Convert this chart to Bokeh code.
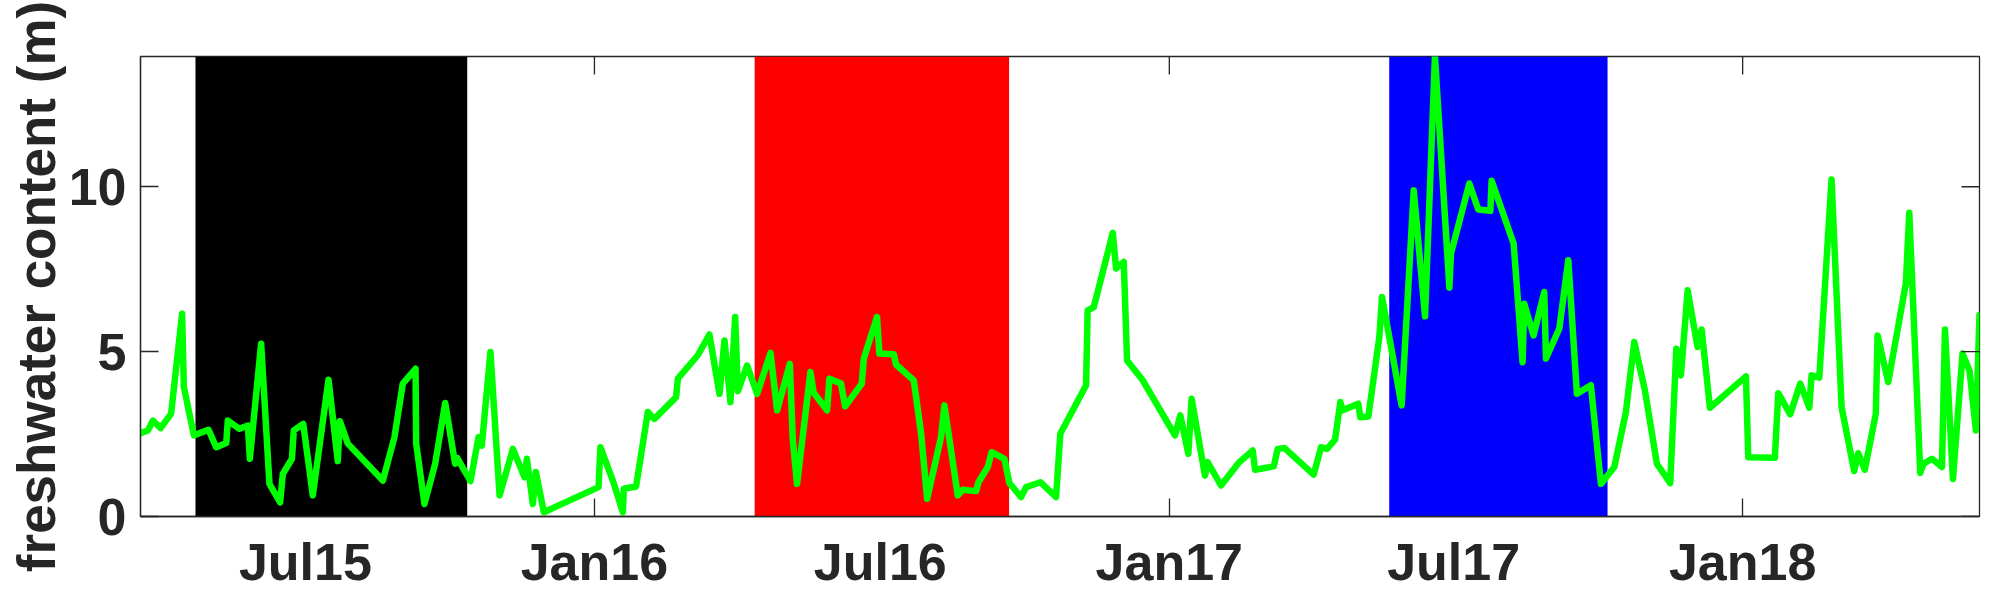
import math
import pandas as pd
from bokeh.plotting import figure
from bokeh.models import (ColumnDataSource, FixedTicker, DatetimeTickFormatter, Range1d)
from bokeh.embed import file_html
from bokeh.resources import INLINE

# ---------------- data ----------------
base_date = "2015-01-01"
days_since_base = [
    76.0, 80.7, 83.9, 88.8, 95.5, 102.5, 103.6, 110.0, 119.3, 124.2,
    130.6, 131.6, 139.0, 144.4, 145.6, 152.8, 158.1, 164.9, 166.6, 172.4,
    173.6, 179.6, 185.7, 195.7, 201.6, 202.9, 208.0, 230.3, 237.7, 243.0,
    251.1, 251.5, 256.8, 263.6, 270.0, 276.3, 277.6, 286.1, 291.2, 293.3,
    298.8, 304.6, 313.1, 320.5, 322.0, 325.8, 327.7, 332.8, 367.6, 368.8,
    376.7, 383.1, 383.7, 391.5, 399.0, 403.2, 417.0, 418.1, 430.8, 438.2,
    444.6, 447.8, 451.6, 454.6, 456.3, 462.2, 468.6, 477.1, 481.3, 489.4,
    491.3, 494.0, 502.5, 504.6, 513.1, 514.6, 522.0, 524.6, 535.2, 536.5,
    544.9, 546.4, 555.6, 557.0, 568.3, 573.0, 576.8, 585.7, 587.8, 596.3,
    599.5, 608.0, 609.5, 615.4, 617.9, 626.0, 629.2, 636.6, 639.8, 648.9,
    658.9, 661.6, 678.0, 679.0, 682.9, 695.0, 697.1, 702.0, 704.1, 714.1,
    734.6, 738.0, 743.1, 745.2, 753.7, 755.4, 763.9, 775.6, 784.1, 785.6,
    797.5, 800.0, 804.2, 822.9, 827.6, 831.4, 836.5, 839.9, 841.4, 851.3,
    852.6, 857.7, 864.7, 866.4, 878.9, 886.6, 893.8, 900.1, 909.3, 910.3,
    922.0, 927.7, 935.4, 936.2, 950.2, 955.9, 957.0, 962.9, 969.7, 970.8,
    979.3, 985.0, 990.5, 999.4, 1005.8, 1014.3, 1021.7, 1027.0, 1033.8, 1041.4,
    1049.9, 1053.8, 1056.7, 1061.0, 1067.3, 1069.9, 1075.2, 1098.1, 1099.6, 1116.5,
    1118.7, 1126.3, 1132.7, 1138.4, 1139.9, 1144.8, 1152.6, 1159.0, 1167.0, 1169.6,
    1173.8, 1180.8, 1181.9, 1188.7, 1199.9, 1202.1, 1209.1, 1211.2, 1216.5, 1222.9,
    1224.8, 1229.9, 1236.0, 1240.5, 1244.5, 1246.8,
]
freshwater_content = [
    2.53, 2.61, 2.91, 2.68, 3.12, 6.15, 3.93, 2.46, 2.63, 2.10,
    2.23, 2.91, 2.66, 2.76, 1.75, 5.24, 0.99, 0.43, 1.29, 1.75,
    2.61, 2.81, 0.64, 4.15, 1.68, 2.89, 2.21, 1.09, 2.41, 4.03,
    4.48, 2.21, 0.38, 1.60, 3.44, 1.60, 1.78, 1.07, 2.41, 2.15,
    4.99, 0.64, 2.05, 1.19, 1.75, 0.38, 1.35, 0.13, 0.89, 2.10,
    1.09, 0.13, 0.84, 0.91, 3.17, 2.96, 3.62, 4.18, 4.89, 5.52,
    3.72, 5.34, 3.47, 6.05, 3.80, 4.58, 3.72, 4.96, 3.22, 4.63,
    2.31, 0.99, 4.38, 3.75, 3.22, 4.18, 4.03, 3.34, 4.03, 4.79,
    6.05, 4.94, 4.92, 4.61, 4.13, 2.51, 0.54, 2.41, 3.37, 0.64,
    0.81, 0.77, 1.04, 1.50, 1.95, 1.75, 1.01, 0.59, 0.89, 1.04,
    0.59, 2.51, 3.98, 6.25, 6.35, 8.60, 7.52, 7.72, 4.73, 4.13,
    2.46, 3.07, 1.90, 3.57, 1.24, 1.65, 0.94, 1.65, 2.00, 1.42,
    1.52, 2.05, 2.08, 1.27, 2.10, 2.05, 2.33, 3.47, 3.22, 3.42,
    3.01, 3.03, 5.44, 6.66, 3.37, 9.89, 6.07, 13.95, 6.94, 7.97,
    10.10, 9.31, 9.27, 10.18, 8.28, 4.68, 6.45, 5.49, 6.81, 4.79,
    5.70, 7.77, 3.72, 3.98, 0.99, 1.50, 3.17, 5.29, 3.82, 1.60,
    1.01, 5.09, 4.28, 6.86, 5.14, 5.67, 3.30, 4.25, 1.80, 1.78,
    3.74, 3.10, 4.03, 3.30, 4.28, 4.21, 10.22, 3.32, 1.38, 1.92,
    1.42, 3.12, 5.49, 4.08, 7.06, 9.21, 1.32, 1.60, 1.75, 1.50,
    5.67, 1.14, 4.94, 4.41, 2.61, 6.12,
]
band_start = ["2015-04-22", "2016-04-12", "2017-05-21"]
band_end = ["2015-10-12", "2016-09-21", "2017-10-07"]
band_color = ["#000000", "#ff0000", "#0000ff"]
x_tick_dates = ["2015-07-01", "2016-01-01", "2016-07-01",
                "2017-01-01", "2017-07-01", "2018-01-01"]
x_tick_labels = ["Jul15", "Jan16", "Jul16", "Jan17", "Jul17", "Jan18"]
x_marked_ticks = ["2016-01-01", "2017-01-01", "2018-01-01"]
y_ticks = [0, 5, 10]
y_label = "freshwater content (m)"

# ---------------- derived ----------------
base = pd.Timestamp(base_date)
dates = [base + pd.Timedelta(days=d) for d in days_since_base]
ymax = max(freshwater_content)


def to_ms(s):
    return int(pd.Timestamp(s).value // 10**6)


tick_ms = [to_ms(d) for d in x_tick_dates]
marked_ms = [to_ms(d) for d in x_marked_ticks]

AX = "#262626"
FONT = "Liberation Sans"
TICK_FS = "52px"
LABEL_FS = "53px"
TICK_LEN = 18
LW = 1.3

p = figure(frame_width=1839, frame_height=460, x_axis_type="datetime",
           output_backend="svg", toolbar_location=None,
           x_range=Range1d(dates[0], dates[-1]),
           y_range=Range1d(0, ymax),
           min_border_left=140, min_border_right=18,
           min_border_top=56, min_border_bottom=80)
p.grid.visible = False
p.background_fill_color = "white"
p.border_fill_color = "white"
p.outline_line_color = AX
p.outline_line_width = LW

bands = ColumnDataSource(dict(
    left=[pd.Timestamp(s) for s in band_start],
    right=[pd.Timestamp(s) for s in band_end],
    color=band_color,
))
p.quad(left="left", right="right", bottom=0, top=ymax, color="color",
       line_color=None, source=bands)

p.line(x=dates, y=freshwater_content, line_color="#00ff00", line_width=6.5,
       line_join="round", line_cap="round")

# mirror tick marks on the top and right edges (half of each dash is clipped)
p.scatter(x=[pd.Timestamp(d) for d in x_marked_ticks], y=[ymax] * len(x_marked_ticks),
          marker="dash", angle=math.pi / 2, size=2 * TICK_LEN,
          line_color=AX, line_width=LW)
p.scatter(x=[dates[-1]] * len(y_ticks), y=y_ticks,
          marker="dash", size=2 * TICK_LEN, line_color=AX, line_width=LW)

# bottom x axis: labels at all ticks, tick marks (minor) only at Jan
xa = p.xaxis[0]
xa.ticker = FixedTicker(ticks=tick_ms, minor_ticks=marked_ms)
xa.formatter = DatetimeTickFormatter(days="%b%y", months="%b%y", years="%b%y")
xa.major_label_overrides = {ms: lab for ms, lab in zip(tick_ms, x_tick_labels)}
xa.major_tick_in = 0
xa.major_tick_out = 0
xa.minor_tick_in = TICK_LEN
xa.minor_tick_out = 0
xa.minor_tick_line_color = AX
xa.minor_tick_line_width = LW
xa.axis_line_color = AX
xa.axis_line_width = LW
xa.major_label_text_font = FONT
xa.major_label_text_font_style = "bold"
xa.major_label_text_font_size = TICK_FS
xa.major_label_text_color = AX
xa.major_label_standoff = 16

# left y axis
ya = p.yaxis[0]
ya.ticker = FixedTicker(ticks=y_ticks)
ya.major_tick_in = TICK_LEN
ya.major_tick_out = 0
ya.minor_tick_in = 0
ya.minor_tick_out = 0
ya.major_tick_line_color = AX
ya.major_tick_line_width = LW
ya.axis_line_color = AX
ya.axis_line_width = LW
ya.major_label_text_font = FONT
ya.major_label_text_font_style = "bold"
ya.major_label_text_font_size = TICK_FS
ya.major_label_text_color = AX
ya.major_label_standoff = 14
ya.axis_label = y_label
ya.axis_label_text_font = FONT
ya.axis_label_text_font_style = "bold"
ya.axis_label_text_font_size = LABEL_FS
ya.axis_label_text_color = AX
ya.axis_label_standoff = 0

open("out.html", "w").write(file_html(p, INLINE))
